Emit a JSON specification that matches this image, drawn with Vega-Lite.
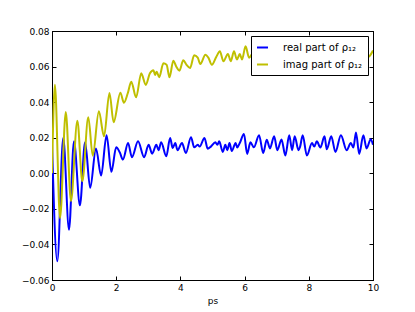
{
  "$schema": "https://vega.github.io/schema/vega-lite/v6.json",
  "width": 321,
  "height": 249,
  "autosize": "none",
  "padding": {"left": 52, "top": 31, "right": 42, "bottom": 32},
  "background": "white",
  "config": {
    "font": "DejaVu Sans",
    "view": {"stroke": "black", "strokeWidth": 1},
    "axis": {
      "grid": false,
      "domainColor": "black",
      "tickColor": "black",
      "labelColor": "black",
      "labelFont": "DejaVu Sans",
      "labelFontSize": 9,
      "titleFont": "DejaVu Sans",
      "titleFontWeight": "normal",
      "titleFontSize": 9,
      "titleColor": "black",
      "tickSize": -4
    }
  },
  "data": {
    "values": [
      {"t": 0.00, "v": 0.017, "s": "real part of ρ₁₂"},
      {"t": 0.165, "v": -0.0495, "s": "real part of ρ₁₂"},
      {"t": 0.35, "v": 0.0199, "s": "real part of ρ₁₂"},
      {"t": 0.53, "v": -0.0317, "s": "real part of ρ₁₂"},
      {"t": 0.685, "v": 0.018, "s": "real part of ρ₁₂"},
      {"t": 0.87, "v": -0.018, "s": "real part of ρ₁₂"},
      {"t": 1.03, "v": 0.0174, "s": "real part of ρ₁₂"},
      {"t": 1.19, "v": -0.0082, "s": "real part of ρ₁₂"},
      {"t": 1.37, "v": 0.0139, "s": "real part of ρ₁₂"},
      {"t": 1.53, "v": -0.0013, "s": "real part of ρ₁₂"},
      {"t": 1.70, "v": 0.0214, "s": "real part of ρ₁₂"},
      {"t": 1.85, "v": 0.0008, "s": "real part of ρ₁₂"},
      {"t": 2.00, "v": 0.0146, "s": "real part of ρ₁₂"},
      {"t": 2.11, "v": 0.0118, "s": "real part of ρ₁₂"},
      {"t": 2.21, "v": 0.0077, "s": "real part of ρ₁₂"},
      {"t": 2.37, "v": 0.017, "s": "real part of ρ₁₂"},
      {"t": 2.49, "v": 0.009, "s": "real part of ρ₁₂"},
      {"t": 2.68, "v": 0.018, "s": "real part of ρ₁₂"},
      {"t": 2.87, "v": 0.009, "s": "real part of ρ₁₂"},
      {"t": 3.01, "v": 0.016, "s": "real part of ρ₁₂"},
      {"t": 3.12, "v": 0.011, "s": "real part of ρ₁₂"},
      {"t": 3.25, "v": 0.016, "s": "real part of ρ₁₂"},
      {"t": 3.32, "v": 0.013, "s": "real part of ρ₁₂"},
      {"t": 3.40, "v": 0.0174, "s": "real part of ρ₁₂"},
      {"t": 3.56, "v": 0.0096, "s": "real part of ρ₁₂"},
      {"t": 3.68, "v": 0.0199, "s": "real part of ρ₁₂"},
      {"t": 3.76, "v": 0.0142, "s": "real part of ρ₁₂"},
      {"t": 3.84, "v": 0.017, "s": "real part of ρ₁₂"},
      {"t": 3.91, "v": 0.013, "s": "real part of ρ₁₂"},
      {"t": 4.05, "v": 0.017, "s": "real part of ρ₁₂"},
      {"t": 4.17, "v": 0.0114, "s": "real part of ρ₁₂"},
      {"t": 4.33, "v": 0.0203, "s": "real part of ρ₁₂"},
      {"t": 4.43, "v": 0.0146, "s": "real part of ρ₁₂"},
      {"t": 4.54, "v": 0.016, "s": "real part of ρ₁₂"},
      {"t": 4.60, "v": 0.015, "s": "real part of ρ₁₂"},
      {"t": 4.75, "v": 0.0199, "s": "real part of ρ₁₂"},
      {"t": 4.85, "v": 0.0138, "s": "real part of ρ₁₂"},
      {"t": 4.95, "v": 0.015, "s": "real part of ρ₁₂"},
      {"t": 5.09, "v": 0.0174, "s": "real part of ρ₁₂"},
      {"t": 5.15, "v": 0.016, "s": "real part of ρ₁₂"},
      {"t": 5.21, "v": 0.018, "s": "real part of ρ₁₂"},
      {"t": 5.32, "v": 0.012, "s": "real part of ρ₁₂"},
      {"t": 5.40, "v": 0.016, "s": "real part of ρ₁₂"},
      {"t": 5.46, "v": 0.013, "s": "real part of ρ₁₂"},
      {"t": 5.53, "v": 0.017, "s": "real part of ρ₁₂"},
      {"t": 5.60, "v": 0.0125, "s": "real part of ρ₁₂"},
      {"t": 5.72, "v": 0.017, "s": "real part of ρ₁₂"},
      {"t": 5.77, "v": 0.0145, "s": "real part of ρ₁₂"},
      {"t": 5.85, "v": 0.017, "s": "real part of ρ₁₂"},
      {"t": 5.98, "v": 0.0221, "s": "real part of ρ₁₂"},
      {"t": 6.08, "v": 0.0109, "s": "real part of ρ₁₂"},
      {"t": 6.18, "v": 0.0174, "s": "real part of ρ₁₂"},
      {"t": 6.29, "v": 0.0146, "s": "real part of ρ₁₂"},
      {"t": 6.45, "v": 0.0214, "s": "real part of ρ₁₂"},
      {"t": 6.58, "v": 0.0114, "s": "real part of ρ₁₂"},
      {"t": 6.69, "v": 0.0189, "s": "real part of ρ₁₂"},
      {"t": 6.79, "v": 0.014, "s": "real part of ρ₁₂"},
      {"t": 6.92, "v": 0.0208, "s": "real part of ρ₁₂"},
      {"t": 7.02, "v": 0.013, "s": "real part of ρ₁₂"},
      {"t": 7.15, "v": 0.019, "s": "real part of ρ₁₂"},
      {"t": 7.27, "v": 0.010, "s": "real part of ρ₁₂"},
      {"t": 7.39, "v": 0.0214, "s": "real part of ρ₁₂"},
      {"t": 7.48, "v": 0.013, "s": "real part of ρ₁₂"},
      {"t": 7.56, "v": 0.0208, "s": "real part of ρ₁₂"},
      {"t": 7.68, "v": 0.013, "s": "real part of ρ₁₂"},
      {"t": 7.73, "v": 0.015, "s": "real part of ρ₁₂"},
      {"t": 7.81, "v": 0.0214, "s": "real part of ρ₁₂"},
      {"t": 7.94, "v": 0.010, "s": "real part of ρ₁₂"},
      {"t": 8.10, "v": 0.017, "s": "real part of ρ₁₂"},
      {"t": 8.17, "v": 0.015, "s": "real part of ρ₁₂"},
      {"t": 8.25, "v": 0.018, "s": "real part of ρ₁₂"},
      {"t": 8.36, "v": 0.0145, "s": "real part of ρ₁₂"},
      {"t": 8.49, "v": 0.0208, "s": "real part of ρ₁₂"},
      {"t": 8.56, "v": 0.0135, "s": "real part of ρ₁₂"},
      {"t": 8.70, "v": 0.0208, "s": "real part of ρ₁₂"},
      {"t": 8.83, "v": 0.012, "s": "real part of ρ₁₂"},
      {"t": 9.00, "v": 0.0214, "s": "real part of ρ₁₂"},
      {"t": 9.18, "v": 0.013, "s": "real part of ρ₁₂"},
      {"t": 9.31, "v": 0.017, "s": "real part of ρ₁₂"},
      {"t": 9.39, "v": 0.0145, "s": "real part of ρ₁₂"},
      {"t": 9.47, "v": 0.023, "s": "real part of ρ₁₂"},
      {"t": 9.57, "v": 0.0109, "s": "real part of ρ₁₂"},
      {"t": 9.70, "v": 0.0214, "s": "real part of ρ₁₂"},
      {"t": 9.80, "v": 0.014, "s": "real part of ρ₁₂"},
      {"t": 9.93, "v": 0.0192, "s": "real part of ρ₁₂"},
      {"t": 10.0, "v": 0.016, "s": "real part of ρ₁₂"},
      {"t": 0.00, "v": 0.000, "s": "imag part of ρ₁₂"},
      {"t": 0.09, "v": 0.0498, "s": "imag part of ρ₁₂"},
      {"t": 0.25, "v": -0.0251, "s": "imag part of ρ₁₂"},
      {"t": 0.43, "v": 0.0345, "s": "imag part of ρ₁₂"},
      {"t": 0.59, "v": -0.0157, "s": "imag part of ρ₁₂"},
      {"t": 0.79, "v": 0.0296, "s": "imag part of ρ₁₂"},
      {"t": 0.945, "v": -0.0045, "s": "imag part of ρ₁₂"},
      {"t": 1.13, "v": 0.0315, "s": "imag part of ρ₁₂"},
      {"t": 1.27, "v": 0.0099, "s": "imag part of ρ₁₂"},
      {"t": 1.46, "v": 0.0349, "s": "imag part of ρ₁₂"},
      {"t": 1.62, "v": 0.0208, "s": "imag part of ρ₁₂"},
      {"t": 1.79, "v": 0.0452, "s": "imag part of ρ₁₂"},
      {"t": 1.92, "v": 0.0287, "s": "imag part of ρ₁₂"},
      {"t": 2.13, "v": 0.0453, "s": "imag part of ρ₁₂"},
      {"t": 2.24, "v": 0.0397, "s": "imag part of ρ₁₂"},
      {"t": 2.36, "v": 0.045, "s": "imag part of ρ₁₂"},
      {"t": 2.47, "v": 0.0515, "s": "imag part of ρ₁₂"},
      {"t": 2.62, "v": 0.0427, "s": "imag part of ρ₁₂"},
      {"t": 2.78, "v": 0.0562, "s": "imag part of ρ₁₂"},
      {"t": 2.92, "v": 0.0497, "s": "imag part of ρ₁₂"},
      {"t": 3.05, "v": 0.0562, "s": "imag part of ρ₁₂"},
      {"t": 3.16, "v": 0.058, "s": "imag part of ρ₁₂"},
      {"t": 3.21, "v": 0.0553, "s": "imag part of ρ₁₂"},
      {"t": 3.26, "v": 0.0571, "s": "imag part of ρ₁₂"},
      {"t": 3.34, "v": 0.054, "s": "imag part of ρ₁₂"},
      {"t": 3.47, "v": 0.0618, "s": "imag part of ρ₁₂"},
      {"t": 3.57, "v": 0.061, "s": "imag part of ρ₁₂"},
      {"t": 3.66, "v": 0.054, "s": "imag part of ρ₁₂"},
      {"t": 3.78, "v": 0.0633, "s": "imag part of ρ₁₂"},
      {"t": 3.87, "v": 0.060, "s": "imag part of ρ₁₂"},
      {"t": 3.97, "v": 0.0577, "s": "imag part of ρ₁₂"},
      {"t": 4.09, "v": 0.0635, "s": "imag part of ρ₁₂"},
      {"t": 4.19, "v": 0.061, "s": "imag part of ρ₁₂"},
      {"t": 4.30, "v": 0.0592, "s": "imag part of ρ₁₂"},
      {"t": 4.43, "v": 0.0663, "s": "imag part of ρ₁₂"},
      {"t": 4.54, "v": 0.065, "s": "imag part of ρ₁₂"},
      {"t": 4.62, "v": 0.0615, "s": "imag part of ρ₁₂"},
      {"t": 4.78, "v": 0.0667, "s": "imag part of ρ₁₂"},
      {"t": 4.87, "v": 0.065, "s": "imag part of ρ₁₂"},
      {"t": 4.98, "v": 0.061, "s": "imag part of ρ₁₂"},
      {"t": 5.12, "v": 0.0655, "s": "imag part of ρ₁₂"},
      {"t": 5.23, "v": 0.0686, "s": "imag part of ρ₁₂"},
      {"t": 5.34, "v": 0.063, "s": "imag part of ρ₁₂"},
      {"t": 5.48, "v": 0.0671, "s": "imag part of ρ₁₂"},
      {"t": 5.57, "v": 0.063, "s": "imag part of ρ₁₂"},
      {"t": 5.67, "v": 0.0686, "s": "imag part of ρ₁₂"},
      {"t": 5.76, "v": 0.064, "s": "imag part of ρ₁₂"},
      {"t": 5.85, "v": 0.067, "s": "imag part of ρ₁₂"},
      {"t": 5.92, "v": 0.064, "s": "imag part of ρ₁₂"},
      {"t": 6.03, "v": 0.0714, "s": "imag part of ρ₁₂"},
      {"t": 6.14, "v": 0.065, "s": "imag part of ρ₁₂"},
      {"t": 6.28, "v": 0.068, "s": "imag part of ρ₁₂"},
      {"t": 6.40, "v": 0.065, "s": "imag part of ρ₁₂"},
      {"t": 6.55, "v": 0.069, "s": "imag part of ρ₁₂"},
      {"t": 6.68, "v": 0.066, "s": "imag part of ρ₁₂"},
      {"t": 6.82, "v": 0.070, "s": "imag part of ρ₁₂"},
      {"t": 6.95, "v": 0.066, "s": "imag part of ρ₁₂"},
      {"t": 7.10, "v": 0.069, "s": "imag part of ρ₁₂"},
      {"t": 7.25, "v": 0.065, "s": "imag part of ρ₁₂"},
      {"t": 7.40, "v": 0.069, "s": "imag part of ρ₁₂"},
      {"t": 7.55, "v": 0.066, "s": "imag part of ρ₁₂"},
      {"t": 7.70, "v": 0.070, "s": "imag part of ρ₁₂"},
      {"t": 7.85, "v": 0.066, "s": "imag part of ρ₁₂"},
      {"t": 8.00, "v": 0.069, "s": "imag part of ρ₁₂"},
      {"t": 8.15, "v": 0.066, "s": "imag part of ρ₁₂"},
      {"t": 8.30, "v": 0.070, "s": "imag part of ρ₁₂"},
      {"t": 8.45, "v": 0.066, "s": "imag part of ρ₁₂"},
      {"t": 8.60, "v": 0.069, "s": "imag part of ρ₁₂"},
      {"t": 8.75, "v": 0.066, "s": "imag part of ρ₁₂"},
      {"t": 8.90, "v": 0.070, "s": "imag part of ρ₁₂"},
      {"t": 9.05, "v": 0.066, "s": "imag part of ρ₁₂"},
      {"t": 9.20, "v": 0.069, "s": "imag part of ρ₁₂"},
      {"t": 9.35, "v": 0.066, "s": "imag part of ρ₁₂"},
      {"t": 9.50, "v": 0.070, "s": "imag part of ρ₁₂"},
      {"t": 9.65, "v": 0.067, "s": "imag part of ρ₁₂"},
      {"t": 9.80, "v": 0.0648, "s": "imag part of ρ₁₂"},
      {"t": 9.90, "v": 0.066, "s": "imag part of ρ₁₂"},
      {"t": 10.0, "v": 0.069, "s": "imag part of ρ₁₂"}
    ]
  },
  "layer": [
    {
      "mark": {"type": "line", "interpolate": "monotone", "strokeWidth": 2, "clip": true},
      "encoding": {
        "x": {
          "field": "t", "type": "quantitative",
          "scale": {"domain": [0, 10], "nice": false, "zero": false},
          "axis": {"orient": "bottom", "values": [0, 2, 4, 6, 8, 10], "title": "ps", "labelPadding": 7, "titlePadding": 4, "labelFlush": false}
        },
        "y": {
          "field": "v", "type": "quantitative",
          "scale": {"domain": [-0.06, 0.08], "nice": false, "zero": false},
          "axis": {"orient": "left", "values": [-0.06, -0.04, -0.02, 0, 0.02, 0.04, 0.06, 0.08], "format": ".2f", "title": null, "labelPadding": 7, "labelFlush": false}
        },
        "color": {
          "field": "s", "type": "nominal",
          "scale": {"domain": ["real part of ρ₁₂", "imag part of ρ₁₂"], "range": ["#0000ff", "#bfbf00"]},
          "sort": ["real part of ρ₁₂", "imag part of ρ₁₂"],
          "legend": {
            "title": null,
            "orient": "top-right",
            "offset": 5,
            "padding": 5,
            "fillColor": "white",
            "strokeColor": "black",
            "symbolType": "stroke",
            "symbolStrokeWidth": 2,
            "symbolSize": 120,
            "labelFont": "DejaVu Sans",
            "labelFontSize": 10,
            "labelColor": "black",
            "labelOffset": 14,
            "rowPadding": 5,
            "cornerRadius": 0
          }
        }
      }
    },
    {
      "mark": {"type": "line", "opacity": 0},
      "encoding": {
        "x": {
          "field": "t", "type": "quantitative",
          "axis": {"orient": "top", "values": [0, 2, 4, 6, 8, 10], "labels": false, "title": null}
        },
        "y": {
          "field": "v", "type": "quantitative",
          "axis": {"orient": "right", "values": [-0.06, -0.04, -0.02, 0, 0.02, 0.04, 0.06, 0.08], "labels": false, "title": null}
        }
      }
    }
  ],
  "resolve": {"axis": {"x": "independent", "y": "independent"}}
}
